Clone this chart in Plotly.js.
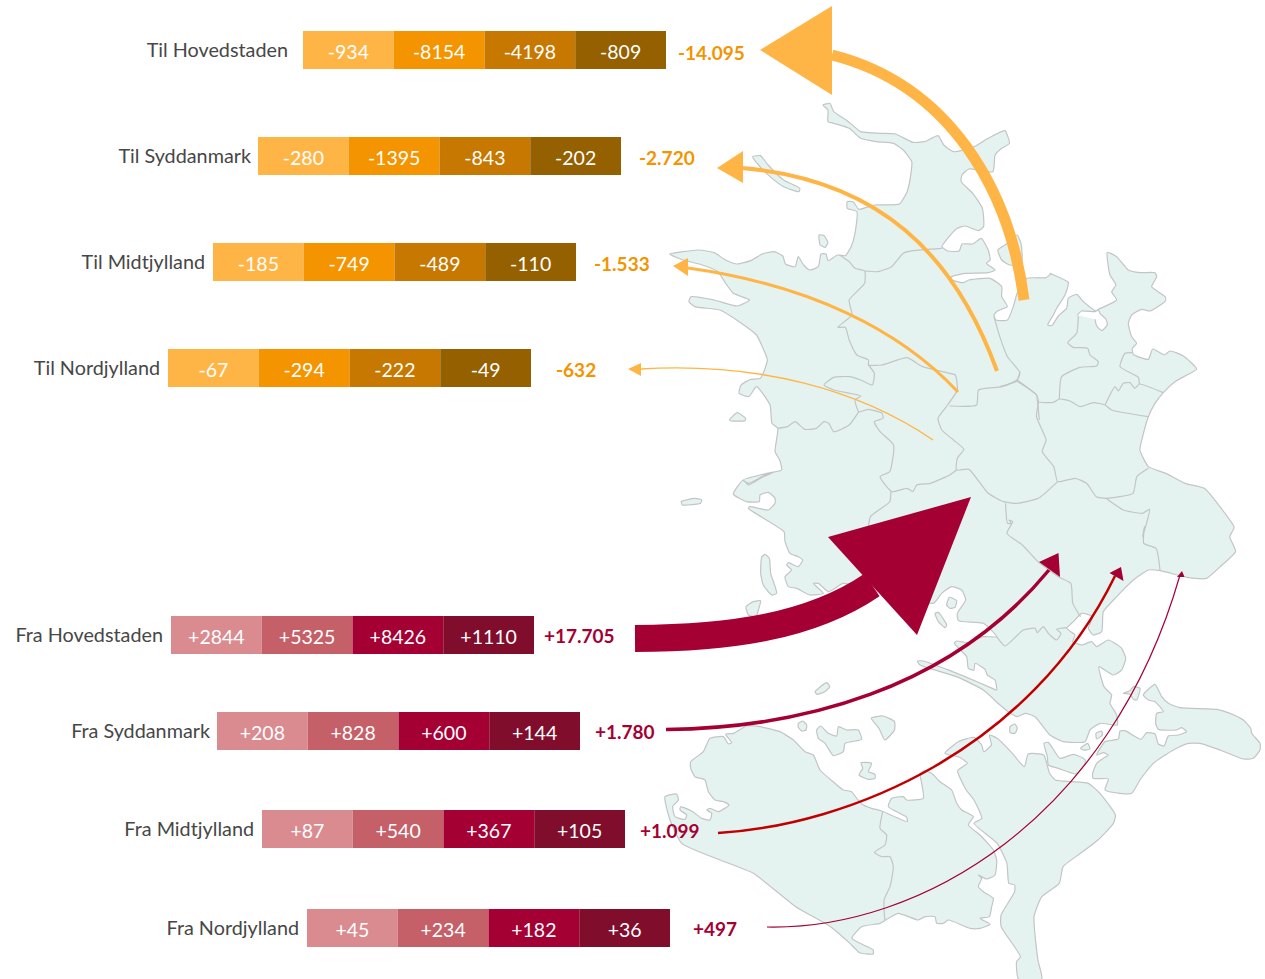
<!DOCTYPE html>
<html><head><meta charset="utf-8">
<script src="https://cdn.plot.ly/plotly-3.0.1.min.js"></script>
<style>html,body{margin:0;padding:0;background:#fff}#c{width:1265px;height:979px}</style>
</head><body><div id="c"></div>
<script>
// ---------- chart values ----------
const rowLabels = ["Til Hovedstaden","Til Syddanmark","Til Midtjylland","Til Nordjylland","Fra Hovedstaden","Fra Syddanmark","Fra Midtjylland","Fra Nordjylland"];
const seg1Values = [-934,-280,-185,-67,2844,208,87,45];
const seg2Values = [-8154,-1395,-749,-294,5325,828,540,234];
const seg3Values = [-4198,-843,-489,-222,8426,600,367,182];
const seg4Values = [-809,-202,-110,-49,1110,144,105,36];
const totalLabels = ["-14.095","-2.720","-1.533","-632","+17.705","+1.780","+1.099","+497"];
// ---------- layout of rows (screen-space axis) ----------
const rowY = [50,156,262,368,635,731,829,928];
const rowStart = [303,258,213,168,171,217,262,307];
const labelEnd = [288,251,205,160,163,210,254,299];
const totalStart = [678,639,594,556,544,595,640,693];
const totalY = [55,160,266,372,638,734,833,931];
const segLen = 90.75, barH = 38;
const tilColors = ["#FFB546","#F39400","#C77800","#946000"];
const fraColors = ["#DA8B90","#C56068","#A50034","#800D2B"];
const ink = "#474747", font = "Lato, Carlito, sans-serif";
// ---------- map outlines in crop coordinates ----------
const Z1 = a => a.map(p => [660+p[0]/2.59, 90+p[1]/3]);
const Z2 = a => a.map(p => [660+p[0]/2.58, 500+p[1]/3]);
const C = (ox,oy) => a => a.map(p => [ox+p[0]/3, oy+p[1]/3]);
const Z5 = C(900,580), Z6 = C(1040,660), Z7 = C(660,720), Z8 = C(880,760), Z9 = C(730,470), Z10 = C(1000,240);

const zealand = [].concat(
 Z1([[25,492],[60,485],[100,480],[140,488],[170,510],[200,522],[235,512],[265,492],[295,485],[318,498],[325,522],[350,530],[358,500],[372,525],[388,540],[410,530],[417,492],[430,492],[435,512],[460,495],[480,497],[495,470],[505,430],[510,365],[485,355],[485,335],[500,335],[515,358],[555,345],[620,342],[640,305],[650,250],[652,215],[630,180],[605,160],[560,155],[520,145],[490,115],[450,100],[435,95],[435,60],[422,45],[440,40],[450,65],[485,92],[520,125],[570,130],[610,132],[655,157],[685,155],[720,137],[735,165],[760,185],[810,172],[850,145],[893,122],[905,160],[885,175],[868,195],[862,245],[800,237],[782,255],[780,275],[810,310],[835,355],[838,410],[825,422],[790,408],[770,415],[745,445],[730,470],[745,483],[775,483],[782,462],[810,462],[832,445],[850,480],[855,510],[845,520],[868,540],[850,548],[790,550],[755,560],[752,568],[785,578],[800,570],[855,565],[885,590],[885,620],[900,650],[875,662],[865,675],[870,690],[900,690],[915,650],[925,610],[950,565],[1000,563],[1013,550]]),
 Z10([[150,100],[205,127],[195,165],[170,205],[160,225],[143,255],[155,257],[175,228],[200,205],[205,175],[230,163],[250,185],[288,213],[295,208],[350,180],[335,155],[348,135],[330,105],[322,37],[350,50],[385,90],[420,98],[465,98],[470,110],[455,140],[495,170],[497,182],[450,213],[425,208],[395,225],[385,250],[395,290],[410,310],[397,325],[400,343],[445,358],[458,327],[493,345],[510,333],[550,348],[590,387],[565,403],[525,425],[490,458],[465,490],[445,530]]),
 Z1([[1250,1040],[1243,1080],[1265,1130],[1310,1150],[1360,1180],[1410,1195],[1450,1250],[1487,1312]]),
 Z2([[1470,110],[1485,155],[1450,195],[1410,235],[1360,232],[1290,212],[1260,210]]),
 Z5([[700,0],[650,50],[610,95],[605,155],[580,165],[565,145],[578,110],[545,100],[520,125],[500,145],[525,165],[518,185],[545,195],[575,185],[590,200],[625,180],[665,205],[677,235],[665,270],[640,285],[597,260],[612,320],[635,345],[630,370],[650,405],[652,435],[600,430],[570,450],[555,485],[490,485],[450,465],[405,410],[375,400],[352,410],[325,395],[300,375],[250,330],[170,290],[60,255],[52,243],[70,243],[140,268],[200,292],[270,322],[290,330],[285,300],[262,285],[255,268],[225,250],[222,270],[205,265],[200,230],[163,190],[170,183],[205,188],[250,170],[290,170],[250,130],[175,122],[172,100],[197,60],[185,30],[155,20],[125,40],[100,70]]),
 Z9([[340,340],[315,355],[295,365],[265,340],[250,340],[280,370],[240,375],[200,355],[175,350],[165,320],[185,300],[170,285],[175,278],[205,290],[218,270],[205,260],[180,250],[165,215],[162,185],[55,115],[60,110],[115,120],[135,100],[135,85],[115,67],[90,75],[88,95],[50,95],[10,72],[40,30],[55,45],[100,20],[135,5]]),
 Z1([[215,1170],[230,1180],[280,1150],[315,1140],[310,1110],[298,1085],[305,1015],[290,1000],[285,945],[250,890],[230,920],[205,910],[210,885],[235,868],[260,865],[278,810],[265,770],[250,735],[205,695],[155,660],[90,650],[75,635],[80,620],[140,630],[200,648],[232,630],[190,610],[170,580],[150,545],[110,525],[60,510],[25,492]])
);
const fjordHole = Z10([[232,225],[245,213],[285,215],[295,210],[300,220],[318,238],[322,255],[305,272],[290,258],[285,238]]);
const lolland = [].concat(
 Z7([[92,125],[130,95],[150,55],[190,50],[205,72],[215,68],[197,43],[220,40],[260,18],[300,20],[360,35],[400,60],[435,95],[460,105],[480,150],[525,190],[550,210],[575,215],[590,235],[610,255],[635,265],[665,273]]),
 Z8([[82,185],[80,172],[25,140],[35,115],[70,110],[80,120],[130,115],[125,70],[120,40],[135,32],[155,40],[180,65],[215,90],[230,130],[245,150],[280,170],[265,195],[300,225],[340,270],[350,300],[345,345],[320,357],[295,345],[305,355],[295,380],[310,395],[340,415],[335,440],[328,470],[300,475],[330,493],[300,505],[270,505],[205,480],[190,490],[170,490],[165,470],[135,470],[115,480],[55,460],[20,478],[0,490]]),
 Z2([[520,1280],[495,1315],[550,1350],[550,1362],[515,1358],[490,1330],[440,1280],[350,1220]]),
 Z7([[280,460],[180,420],[65,370],[30,300],[15,230],[50,222],[55,240],[38,260],[45,290],[75,298],[80,285],[60,270],[62,260],[95,273],[125,295],[150,300],[155,280],[140,270],[150,265],[175,275],[207,255],[190,245],[165,240],[145,215],[135,180],[105,170],[92,145],[92,125]])
);
const falster = Z2([[768,812],[793,790],[773,772],[735,760],[770,725],[810,712],[830,735],[835,755],[855,735],[850,705],[870,715],[905,755],[940,800],[950,762],[990,765],[1005,820],[1020,840],[1060,845],[1105,850],[1135,880],[1175,945],[1170,970],[1130,1020],[1085,1060],[1040,1100],[1030,1150],[985,1190],[965,1250],[975,1380],[985,1437],[925,1437],[920,1385],[930,1370],[880,1280],[880,1245],[915,1175],[915,1155],[900,1150],[895,1090],[870,1030],[810,970],[830,955],[810,900],[790,870],[768,812]]);
const moen = Z6([[310,105],[345,73],[365,110],[385,130],[420,143],[530,148],[570,160],[610,180],[632,205],[635,220],[660,250],[660,270],[640,295],[610,297],[540,270],[480,250],[445,250],[400,270],[340,310],[300,360],[275,400],[240,400],[195,390],[205,357],[160,355],[158,340],[170,310],[190,295],[205,285],[190,278],[170,285],[195,245],[235,237],[240,213],[255,212],[303,238],[320,218],[345,222],[355,252],[372,258],[385,228],[415,225],[440,215],[425,203],[410,210],[355,208],[347,190],[350,160],[370,155],[345,125],[325,120],[310,105]]);
const islands = [
 Z1([[240,200],[260,197],[280,225],[320,270],[362,295],[360,305],[320,290],[285,260],[255,225],[240,200]]),
 Z1([[412,435],[425,437],[435,458],[428,472],[415,465],[412,435]]),
 Z1([[875,480],[900,460],[925,435],[935,460],[938,500],[935,525],[905,525],[885,510],[875,480]]),
 Z1([[180,990],[200,968],[222,985],[220,992],[185,993],[180,990]]),
 Z1([[55,1235],[90,1225],[108,1230],[105,1240],[70,1245],[58,1245],[55,1235]]),
 Z9([[95,262],[105,253],[118,265],[122,310],[140,370],[125,375],[100,345],[92,310],[95,262]]),
 Z9([[48,410],[70,395],[92,392],[85,420],[78,440],[55,435],[48,410]]),
 Z5([[140,75],[148,52],[170,62],[165,82],[150,85],[140,75]]),
 Z5([[105,100],[115,97],[140,135],[135,143],[115,125],[105,100]]),
 Z2([[400,575],[430,548],[438,560],[425,575],[405,583],[400,575]]),
 Z7([[415,10],[428,3],[440,15],[438,30],[425,33],[415,22],[415,10]]),
 Z7([[470,30],[482,18],[505,40],[530,48],[535,20],[560,30],[595,30],[605,58],[575,65],[555,70],[550,95],[520,107],[495,70],[475,55],[470,30]]),
 Z7([[603,128],[635,130],[625,155],[645,163],[645,175],[625,178],[597,165],[608,145],[603,128]]),
 Z2([[545,655],[575,648],[605,665],[605,690],[580,720],[565,685],[545,655]]),
 Z6([[250,100],[270,92],[280,80],[300,85],[290,120],[280,118],[270,103],[250,100]]),
 Z6([[168,220],[185,213],[187,225],[170,237],[168,220]]),
 Z6([[122,265],[143,250],[150,267],[130,270],[122,265]]),
 Z6([[12,250],[25,247],[60,295],[100,283],[130,295],[137,305],[110,342],[55,325],[25,315],[22,290],[12,250]]),
 Z5([[330,440],[345,432],[352,445],[345,460],[330,458],[330,440]])
];
const borders = [
 Z1([[465,495],[490,515],[505,535],[530,543],[530,580],[490,630],[497,675],[460,712],[480,712],[490,750],[510,795],[540,810],[540,825],[575,825],[640,803],[680,830],[750,850],[765,855],[770,900],[745,945],[720,985],[730,1020],[760,1050],[787,1078],[770,1105],[768,1140],[800,1138],[850,1210],[890,1235],[925,1240],[980,1225],[1030,1175]]),
 Z1([[530,543],[565,545],[600,530],[630,490],[655,482],[730,475]]),
 Z1([[540,825],[555,850],[550,885],[520,870],[490,860],[450,862],[425,885],[450,900],[520,918],[505,930],[515,965],[540,958],[575,970],[578,985],[555,995],[570,1025],[605,1065],[595,1145],[570,1160],[600,1205],[640,1195],[655,1205],[665,1185],[700,1180],[750,1155],[768,1140]]),
 Z1([[515,965],[490,1005],[450,1025],[437,1000],[425,995],[405,1015],[375,1018],[350,995],[330,1010],[305,1015]]),
 Z1([[598,1205],[595,1235],[545,1280],[540,1310]]),
 Z1([[865,680],[880,740],[900,800],[932,848],[925,870],[885,890],[825,900],[820,945],[750,948]]),
 Z1([[925,870],[975,915],[980,935],[975,980],[1000,1050],[990,1085],[1020,1130],[1030,1175],[1075,1165],[1105,1180],[1130,1220],[1155,1225],[1225,1210],[1235,1160],[1265,1135]]),
 Z10([[60,395],[50,423],[0,440]]),
 Z10([[50,423],[110,465],[113,485],[160,487],[178,477],[210,483],[240,500],[280,488],[315,495],[335,510],[445,530]]),
 Z10([[113,485],[118,540]]),
 Z10([[178,477],[185,410],[240,382],[290,378],[295,365],[270,345],[263,325],[220,322],[203,308],[230,280],[235,228]]),
 Z10([[315,495],[345,440],[355,453],[370,430],[390,428],[405,445],[418,432],[490,458]]),
 Z10([[418,432],[415,412],[360,380],[375,340],[397,338]]),
 Z1([[1155,1225],[1200,1260],[1250,1270],[1268,1258],[1250,1340]]).concat(Z2([[1250,80],[1248,130],[1280,145],[1290,210]])),
 Z1([[895,1240],[900,1300],[910,1300]]).concat(Z2([[900,60],[910,65],[895,100],[935,135],[975,185],[1030,232],[1060,250],[1065,310],[1085,350]])),
 Z5([[290,170],[315,198],[370,150],[405,145],[412,158],[430,140],[445,160],[470,180],[483,160],[470,148],[500,143]]),
 Z7([[668,275],[660,325],[680,345],[675,375],[643,397],[665,410],[690,410],[700,440],[690,500],[672,540]]).concat(Z2([[580,1260]]))
];
// ---------- arrows: line path + head ----------
const arrows = [
 {c:"#FFB546", w:11,  p:"M1024,300 C1010,190 950,85 832,55",  h:[[760,50],[832,6],[832,95]]},
 {c:"#FFB546", w:4,   p:"M997,371 C955,255 880,180 742,168",  h:[[717,168],[743,151],[743,183]]},
 {c:"#FFB546", w:3,   p:"M958,392 C900,330 810,285 688,268",  h:[[673,266],[688,258],[688,276]]},
 {c:"#FFB546", w:1.4, p:"M933,440 C860,390 760,362 640,369",  h:[[628,369],[641,363],[641,376]]},
 {c:"#A50034", w:27,  p:"M635,638.5 C730,638 810,627 872,585", h:[[971,497],[828,537],[917,635]]},
 {c:"#A50034", w:3.5, p:"M666,729.5 C800,728 950,690 1049,570", h:[[1058.5,553],[1039,562],[1060,577]]},
 {c:"#C00000", hc:"#A50034", w:2.5, p:"M718,833 C850,825 1030,750 1115,576", h:[[1121,567],[1109.5,573],[1123.5,581]]},
 {c:"#A50034", w:1.2, p:"M767,927 C920,930 1110,820 1180,575", h:[[1182,571],[1177,577],[1184.5,577]]}
];

// ---------- traces ----------
const traces = [];
const landFill = "#E5F3F0", coast = "#C2C5C5";
function poly(pts, fill){
  traces.push({type:"scatter",mode:"lines",x:pts.map(p=>p[0]),y:pts.map(p=>p[1]),fill:"toself",fillcolor:fill,
    line:{color:coast,width:1.2,shape:"spline",smoothing:0.5},hoverinfo:"skip",showlegend:false});
}
[zealand,lolland,falster,moen].forEach(p=>poly(p,landFill));
poly(fjordHole,"#FFFFFF");
islands.forEach(p=>poly(p,landFill));
borders.forEach(p=>traces.push({type:"scatter",mode:"lines",x:p.map(q=>q[0]),y:p.map(q=>q[1]),
  line:{color:coast,width:1.2,shape:"spline",smoothing:0.5},hoverinfo:"skip",showlegend:false}));

const fmt = v => (v>0?"+":"")+v;
[seg1Values,seg2Values,seg3Values,seg4Values].forEach((vals,i)=>{
  traces.push({type:"bar",orientation:"h",y:rowY,x:vals.map(()=>segLen),base:rowStart.map(s=>s+i*segLen),width:barH,
    marker:{color:vals.map(v=>v<0?tilColors[i]:fraColors[i]),line:{width:0}},
    hoverinfo:"skip",showlegend:false});
  traces.push({type:"scatter",mode:"text",y:rowY.map(y=>y+4),x:rowStart.map(s=>s+(i+0.5)*segLen),text:vals.map(fmt),
    textposition:"middle center",textfont:{family:font,size:19.5,color:"#FFFFFF"},hoverinfo:"skip",showlegend:false});
});
traces.push({type:"scatter",mode:"text",x:labelEnd,y:rowY.map(y=>y+2),text:rowLabels,textposition:"middle left",
  textfont:{family:font,size:19.8,color:ink},hoverinfo:"skip",showlegend:false});
traces.push({type:"scatter",mode:"text",x:totalStart,y:totalY,text:totalLabels,textposition:"middle right",
  textfont:{family:font,size:19,weight:700,color:totalLabels.map(t=>t[0]==="-"?"#F39400":"#A50034")},hoverinfo:"skip",showlegend:false});

const shapes = [];
arrows.forEach(a=>{
  shapes.push({type:"path",xref:"x",yref:"y",path:a.p,line:{color:a.c,width:a.w},fillcolor:"rgba(0,0,0,0)",layer:"above"});
  const h=a.h;
  shapes.push({type:"path",xref:"x",yref:"y",path:`M${h[0]} L${h[1]} L${h[2]} Z`,line:{width:0},fillcolor:a.hc||a.c,layer:"above"});
});

const layout = {width:1265,height:979,autosize:false,margin:{l:0,r:0,t:0,b:0},paper_bgcolor:"#fff",plot_bgcolor:"#fff",
  barmode:"overlay",showlegend:false,shapes,
  xaxis:{range:[0,1265],visible:false,fixedrange:true},
  yaxis:{range:[979,0],visible:false,fixedrange:true}};
Plotly.newPlot("c",traces,layout,{displayModeBar:false,staticPlot:true});
</script></body></html>
